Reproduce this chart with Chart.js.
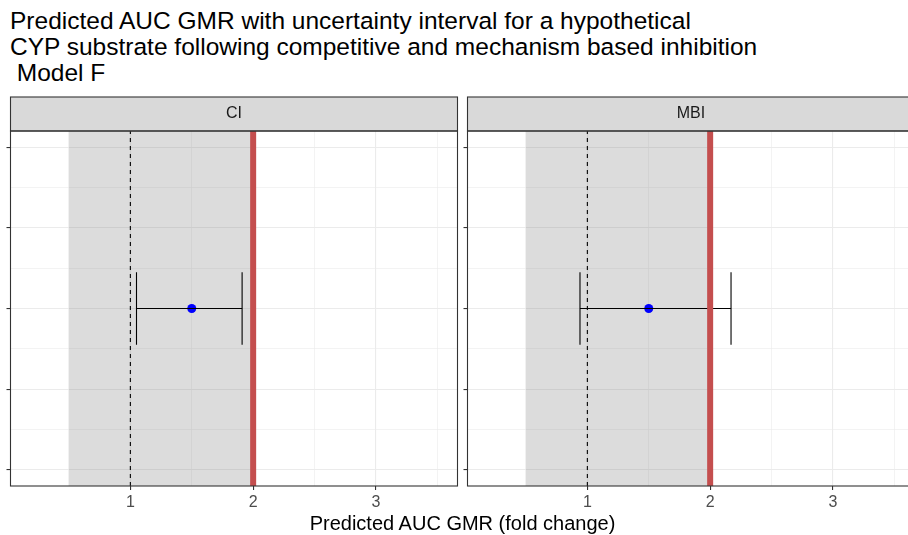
<!DOCTYPE html>
<html>
<head>
<meta charset="utf-8">
<script src="https://cdn.jsdelivr.net/npm/chart.js@4.4.1/dist/chart.umd.min.js"></script>
<style>
  html, body { margin: 0; padding: 0; background: #fff; overflow: hidden; }
  #page { position: relative; width: 908px; height: 535px; overflow: hidden; font-family: "Liberation Sans", Arial, sans-serif; }
  #title { position: absolute; left: 10px; top: 8px; font-size: 24.5px; line-height: 26px; color: #000; white-space: pre; }
  #xlab { position: absolute; left: 0; width: 925px; top: 512px; text-align: center; font-size: 20px; line-height: 23px; color: #000; }
  .panel { position: absolute; top: 90px; width: 462px; height: 445px; }
</style>
</head>
<body>
<div id="page">
  <div id="title">Predicted AUC GMR with uncertainty interval for a hypothetical
CYP substrate following competitive and mechanism based inhibition
 Model F</div>
  <div class="panel" style="left:0px"><canvas id="chartCI"></canvas></div>
  <div class="panel" style="left:457px"><canvas id="chartMBI"></canvas></div>
  <div id="xlab">Predicted AUC GMR (fold change)</div>
</div>
<script>
// facets and their estimates
const facets = ['CI', 'MBI'];
const gmr = [1.5, 1.5];
const gmrLow = [1.05, 0.94];
const gmrHigh = [1.91, 2.17];

// reference lines and shaded band
const noEffect = 1;
const threshold = 2;
const bandRange = [0.5, 2];

// axes
const xTicks = [0.5, 1, 1.5, 2, 2.5, 3, 3.5];
const xLabels = ['1', '2', '3'];
const xRange = [0.024, 3.664];
const yTicks = [-2, -1.5, -1, -0.5, 0, 0.5, 1, 1.5, 2];
const yRange = [-2.2, 2.2];
const capHalf = 0.45;

const FONT = '"Liberation Sans", Arial, sans-serif';
const isMajor = v => Math.abs(v - Math.round(v)) < 1e-9;

// shaded band under the data, strip header and panel border
const panelDecor = {
  id: 'panelDecor',
  beforeDatasetsDraw(chart) {
    const { ctx, chartArea: a, scales: { x } } = chart;
    const x0 = x.getPixelForValue(bandRange[0]);
    const x1 = x.getPixelForValue(bandRange[1]);
    ctx.save();
    ctx.fillStyle = 'rgba(127,127,127,0.27)';
    ctx.fillRect(x0, a.top, x1 - x0, a.bottom - a.top);
    ctx.restore();
  },
  afterDraw(chart, args, opts) {
    const { ctx, chartArea: a } = chart;
    ctx.save();
    // strip
    const sTop = a.top - 34;
    ctx.fillStyle = '#D9D9D9';
    ctx.fillRect(a.left, sTop, a.right - a.left, 34);
    ctx.strokeStyle = '#333333';
    ctx.lineWidth = 1.1;
    ctx.strokeRect(a.left, sTop, a.right - a.left, 34);
    ctx.fillStyle = '#1A1A1A';
    ctx.font = '16px ' + FONT;
    ctx.textAlign = 'center';
    ctx.textBaseline = 'middle';
    ctx.fillText(opts.label, (a.left + a.right) / 2, sTop + 17);
    // panel border
    ctx.strokeRect(a.left, a.top, a.right - a.left, a.bottom - a.top);
    ctx.restore();
  }
};

function makePanel(canvasId, i) {
  const vline = (v, color, width, dash) => ({
    type: 'line',
    data: [{ x: v, y: yRange[0] }, { x: v, y: yRange[1] }],
    borderColor: color, borderWidth: width, borderDash: dash,
    pointRadius: 0, fill: false
  });
  const datasets = [
    vline(noEffect, '#000000', 1.1, [4, 4]),
    vline(threshold, '#C44E4E', 6, []),
    {
      type: 'line',
      data: [{ x: gmrLow[i], y: 0 }, { x: gmrHigh[i], y: 0 }],
      borderColor: '#000000', borderWidth: 1.1, pointRadius: 0
    },
    {
      type: 'line',
      data: [{ x: gmrLow[i], y: -capHalf }, { x: gmrLow[i], y: capHalf }],
      borderColor: '#000000', borderWidth: 1.1, pointRadius: 0
    },
    {
      type: 'line',
      data: [{ x: gmrHigh[i], y: -capHalf }, { x: gmrHigh[i], y: capHalf }],
      borderColor: '#000000', borderWidth: 1.1, pointRadius: 0
    },
    {
      type: 'scatter',
      data: [{ x: gmr[i], y: 0 }],
      backgroundColor: '#0000FF', borderColor: '#0000FF',
      pointRadius: 4.5, borderWidth: 0
    }
  ];

  const gridOpts = {
    color: '#EBEBEB',
    lineWidth: c => isMajor(c.tick.value) ? 1.1 : 0.6,
    tickColor: c => isMajor(c.tick.value) ? '#333333' : 'rgba(0,0,0,0)',
    tickLength: 4
  };

  return new Chart(document.getElementById(canvasId), {
    type: 'scatter',
    data: { datasets },
    plugins: [panelDecor],
    options: {
      responsive: true,
      maintainAspectRatio: false,
      animation: false,
      layout: { padding: { top: 41, right: 4, left: 0, bottom: 0 } },
      plugins: {
        legend: { display: false },
        tooltip: { enabled: false },
        panelDecor: { label: facets[i] }
      },
      scales: {
        x: {
          type: 'linear',
          min: xRange[0], max: xRange[1],
          afterBuildTicks: s => { s.ticks = xTicks.map(v => ({ value: v })); },
          afterFit: s => { s.height = 49; },
          grid: gridOpts,
          border: { display: false },
          ticks: {
            color: '#4D4D4D',
            font: { size: 16, family: FONT },
            padding: 3,
            maxRotation: 0,
            autoSkip: false,
            callback: v => isMajor(v) && xLabels.includes(String(v)) ? String(v) : ''
          }
        },
        y: {
          type: 'linear',
          min: yRange[0], max: yRange[1],
          afterBuildTicks: s => { s.ticks = yTicks.map(v => ({ value: v })); },
          afterFit: s => { s.width = 10.5; },
          grid: gridOpts,
          border: { display: false },
          ticks: { display: false }
        }
      }
    }
  });
}

makePanel('chartCI', 0);
makePanel('chartMBI', 1);
</script>
</body>
</html>
